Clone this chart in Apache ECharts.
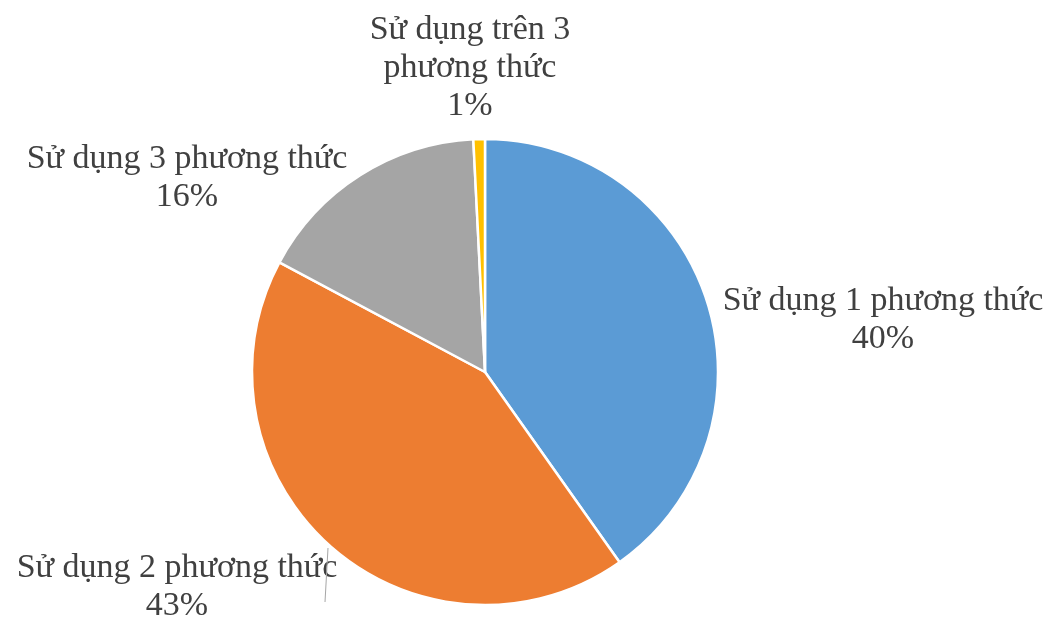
<!DOCTYPE html>
<html>
<head>
<meta charset="utf-8">
<script src="https://cdn.jsdelivr.net/npm/echarts@6/dist/echarts.min.js"></script>
<style>
html,body{margin:0;padding:0;background:#fff;}
#chart{width:1057px;height:619px;}
</style>
</head>
<body>
<div id="chart"></div>
<script>
const categories = ['Sử dụng 1 phương thức', 'Sử dụng 2 phương thức', 'Sử dụng 3 phương thức', 'Sử dụng trên 3 phương thức'];
const values = [40.2, 42.6, 16.4, 0.8];
const colors = ['#5b9bd5', '#ed7d31', '#a5a5a5', '#ffc000'];
// label anchor positions (centre of the text block), in px
const labelPos = [[883, 320], [177, 587], [187, 178], [470, 68]];

const chart = echarts.init(document.getElementById('chart'));
chart.setOption({
  animation: false,
  backgroundColor: '#ffffff',
  series: [{
    type: 'pie',
    center: [485, 372],
    radius: 233,
    startAngle: 90,
    clockwise: true,
    percentPrecision: 0,
    itemStyle: { borderColor: '#ffffff', borderWidth: 2.5 },
    label: {
      show: true,
      position: 'outside',
      formatter: function (p) {
        let name = p.name;
        if (p.dataIndex === 3) name = name.replace('trên 3 ', 'trên 3\n');
        return name + '\n' + p.percent + '%';
      },
      fontFamily: 'Liberation Serif',
      fontSize: 34,
      lineHeight: 38,
      color: '#404040',
      align: 'center',
      overflow: 'none'
    },
    labelLine: { show: false },
    labelLayout: function (p) {
      const pos = labelPos[p.dataIndex];
      return { x: pos[0], y: pos[1], align: 'center', verticalAlign: 'middle' };
    },
    data: categories.map((c, i) => ({ name: c, value: values[i], itemStyle: { color: colors[i] } }))
  }],
  graphic: [{
    type: 'line',
    shape: { x1: 328, y1: 548, x2: 325, y2: 602 },
    style: { stroke: '#a6a6a6', lineWidth: 1 },
    z: 100
  }]
});
</script>
</body>
</html>
